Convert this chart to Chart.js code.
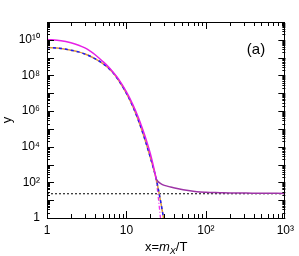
<!DOCTYPE html>
<html>
<head>
<meta charset="utf-8">
<script src="https://cdn.jsdelivr.net/npm/chart.js@4.4.1/dist/chart.umd.min.js"></script>
<style>
  html, body { margin: 0; padding: 0; background: #fff; }
  #wrap { width: 299px; height: 256px; }
</style>
</head>
<body>
<div id="wrap"><canvas id="chart" width="299" height="256"></canvas></div>
<script>
// values
var xMagSolid = [1, 1.5, 2, 2.5, 3, 3.5, 4, 5, 6, 7, 8, 10, 12, 14, 16, 18, 20, 22, 23.7];
var yMagSolid = [1.05e10, 8.9e9, 6.8e9, 5.0e9, 3.5e9, 2.3e9, 1.5e9, 6.3e8, 2.9e8, 1.3e8, 6.0e7, 1.2e7, 2.4e6, 4.8e5, 9.5e4, 2.0e4, 4.0e3, 7.1e2, 155];

var xBlue = [1, 1.5, 2, 2.5, 3, 3.5, 4, 5, 6, 7, 8, 10, 12, 14, 16, 18, 20, 22, 23.7, 26, 28, 30, 31];
var yBlue = [3.7e9, 3.3e9, 2.6e9, 2.1e9, 1.6e9, 1.2e9, 8.9e8, 4.8e8, 2.5e8, 1.2e8, 5.2e7, 1.0e7, 1.9e6, 3.4e5, 6.3e4, 1.2e4, 2.5e3, 5.6e2, 155, 20, 3.2, 0.56, 0.25];

var xMagDash = [23.7, 25, 26, 27, 28];
var yMagDash = [155, 19, 3.7, 0.72, 0.14];

var xPurple = [23.7, 25, 27, 30, 36, 45, 60, 77, 100, 150, 200, 320, 500, 1000];
var yPurple = [155, 110, 85, 68, 55, 44, 35, 30, 28, 26.5, 25.5, 25, 24.5, 24];

var xDotted = [1, 1000];
var yDotted = [23, 23];

var xRange = [1, 1000];
var yRange = [1, 1e11];
var yLabelExps = [0, 2, 4, 6, 8, 10];
var xLabelExps = [0, 1, 2, 3];

var FONT = '"Liberation Sans", Arial, sans-serif';
var SUP = {'0':'⁰','1':'¹','2':'²','3':'³','4':'⁴','5':'⁵','6':'⁶','7':'⁷','8':'⁸','9':'⁹'};

function pts(xs, ys) {
  var out = [];
  for (var i = 0; i < xs.length; i++) out.push({x: xs[i], y: ys[i]});
  return out;
}

function powLabel(e) {
  if (e == 0) return '1';
  if (e == 1) return '10';
  var s = '10';
  String(e).split('').forEach(function (c) { s += SUP[c]; });
  return s;
}

function expOf(v) {
  return Math.round(Math.log10(v));
}

// inward ticks on all four sides, frame, panel label and x title
var frameTicks = {
  id: 'frameTicks',
  afterDatasetsDraw(chart) {
    var ctx = chart.ctx, a = chart.chartArea;
    var xs = chart.scales.x, ys = chart.scales.y;
    ctx.save();
    ctx.strokeStyle = '#000';
    ctx.lineWidth = 1;
    ctx.beginPath();
    var e, k, v, p, len;
    for (e = 0; e < 3; e++) {
      for (k = 1; k < 10; k++) {
        v = k * Math.pow(10, e);
        p = Math.round(xs.getPixelForValue(v)) + 0.5;
        len = k == 1 ? 7 : 4;
        ctx.moveTo(p, a.bottom); ctx.lineTo(p, a.bottom - len);
        ctx.moveTo(p, a.top); ctx.lineTo(p, a.top + len);
      }
    }
    for (e = 0; e < 11; e++) {
      for (k = 1; k < 10; k++) {
        v = k * Math.pow(10, e);
        p = Math.round(ys.getPixelForValue(v)) + 0.5;
        len = k == 1 ? 7 : 3;
        ctx.moveTo(a.left, p); ctx.lineTo(a.left + len, p);
        ctx.moveTo(a.right, p); ctx.lineTo(a.right - len, p);
      }
    }
    ctx.stroke();
    ctx.strokeRect(Math.round(a.left) + 0.5, Math.round(a.top) + 0.5,
      Math.round(a.right - a.left) - 1, Math.round(a.bottom - a.top));

    ctx.fillStyle = '#000';
    ctx.textBaseline = 'alphabetic';
    ctx.textAlign = 'center';
    ctx.font = '15px ' + FONT;
    ctx.fillText('(a)', 256, 54);

    // x title: x=m_X/T
    var parts = [
      {t: 'x=', f: '13px ' + FONT, dy: 0},
      {t: 'm', f: 'italic 13px ' + FONT, dy: 0},
      {t: 'X', f: 'italic 9px ' + FONT, dy: 3},
      {t: '/T', f: '13px ' + FONT, dy: 0}
    ];
    var total = 0;
    parts.forEach(function (q) { ctx.font = q.f; q.w = ctx.measureText(q.t).width; total += q.w; });
    var cx = (a.left + a.right) / 2 - total / 2;
    ctx.textAlign = 'left';
    parts.forEach(function (q) {
      ctx.font = q.f;
      ctx.fillText(q.t, cx, 251 + q.dy);
      cx += q.w;
    });
    ctx.restore();
  }
};

var ctx = document.getElementById('chart');
new Chart(ctx, {
  type: 'line',
  data: {
    datasets: [
      {
        data: pts(xMagSolid, yMagSolid),
        borderColor: '#e620e6',
        borderWidth: 1.5,
        order: 1
      },
      {
        data: pts(xBlue, yBlue),
        borderColor: '#1a1aff',
        borderWidth: 1.5,
        borderDash: [3, 3],
        order: 2
      },
      {
        data: pts(xBlue, yBlue),
        borderColor: '#d9963c',
        borderWidth: 1.5,
        order: 3
      },
      {
        data: pts(xMagDash, yMagDash),
        borderColor: '#f030f0',
        borderWidth: 1.3,
        borderDash: [4, 2, 1, 2],
        order: 4
      },
      {
        data: pts(xPurple, yPurple),
        borderColor: '#9d34a6',
        borderWidth: 1.5,
        order: 0
      },
      {
        data: pts(xDotted, yDotted),
        borderColor: '#000',
        borderWidth: 1.2,
        borderDash: [2, 2],
        order: 5
      }
    ]
  },
  options: {
    responsive: false,
    animation: false,
    events: [],
    layout: { padding: { top: 22, right: 11, left: 0, bottom: 0 } },
    elements: {
      point: { radius: 0 },
      line: { cubicInterpolationMode: 'monotone', fill: false }
    },
    plugins: {
      legend: { display: false },
      tooltip: { enabled: false }
    },
    scales: {
      x: {
        type: 'logarithmic',
        min: xRange[0],
        max: xRange[1],
        afterBuildTicks: function (scale) {
          scale.ticks = xLabelExps.map(function (e) { return {value: Math.pow(10, e)}; });
        },
        afterFit: function (scale) { scale.height = 38; },
        grid: { display: false, drawTicks: false },
        border: { display: false },
        ticks: {
          autoSkip: false,
          maxRotation: 0,
          padding: 5,
          color: '#000',
          font: { family: FONT, size: 12 },
          callback: function (v) { return powLabel(expOf(v)); }
        },
        title: { display: false }
      },
      y: {
        type: 'logarithmic',
        min: yRange[0],
        max: yRange[1],
        afterBuildTicks: function (scale) {
          scale.ticks = yLabelExps.map(function (e) { return {value: Math.pow(10, e)}; });
        },
        afterFit: function (scale) { scale.width = 47; },
        grid: { display: false, drawTicks: false },
        border: { display: false },
        ticks: {
          autoSkip: false,
          padding: 7,
          color: '#000',
          font: { family: FONT, size: 12 },
          callback: function (v) { return powLabel(expOf(v)); }
        },
        title: {
          display: true,
          text: 'y',
          color: '#000',
          font: { family: FONT, size: 13 },
          padding: { top: 0, bottom: 0 }
        }
      }
    }
  },
  plugins: [frameTicks]
});
</script>
</body>
</html>
